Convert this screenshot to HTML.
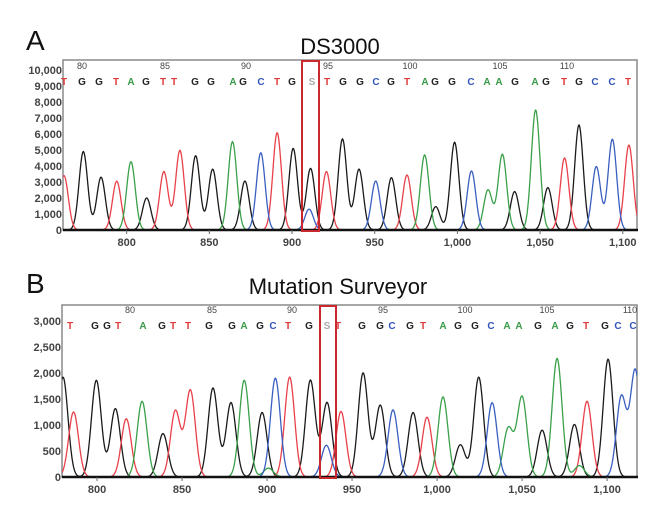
<!DOCTYPE html>
<html><head><meta charset="utf-8">
<style>
body{margin:0;background:#fff;}
svg{display:block;font-family:"Liberation Sans",sans-serif;}
</style></head>
<body>
<svg id="fig" width="660" height="511" viewBox="0 0 660 511" xmlns="http://www.w3.org/2000/svg">
<text x="26" y="50" font-size="28" fill="#111">A</text>
<text x="340" y="54" font-size="22" fill="#111" text-anchor="middle">DS3000</text>
<text x="26" y="293" font-size="28" fill="#111">B</text>
<text x="338" y="294" font-size="22" fill="#111" text-anchor="middle">Mutation Surveyor</text>
<g id="pa"></g>
<g id="pb"></g>
</svg>
<script>
// ---- Panel A data (DS3000) ----
const aBlackPos=[773.8,784.5,812.1,841.7,852,871.5,900.7,911.2,930.5,940.5,960.1,986.9,998.3,1034.6,1054.7,1073.5];
const aBlackH=[4900,3300,2000,4640,3800,3060,5100,3850,5690,3800,3270,1460,5480,2400,2650,6560];
const aRedPos=[762.1,794,822.5,832.2,891,920.8,969.5,1064.8,1103.7];
const aRedH=[3400,3050,3650,4970,6080,3650,3440,4500,5310];
const aGreenPos=[802.6,864,980.2,1018.5,1027.2,1047.3];
const aGreenH=[4270,5520,4690,2500,4730,7500];
const aBluePos=[881.1,910.3,950.6,1008.5,1084,1093.7];
const aBlueH=[4830,1300,3060,3690,3960,5670];
const aYTicks=[0,1000,2000,3000,4000,5000,6000,7000,8000,9000,10000];
const aXTicks=[800,850,900,950,1000,1050,1100];
const aBases="TGGTAGTTGGAGCTGSTGGCGTAGGCAAGAGTGCCT".split("");
const aBasePx=[64,82,99,116,131,146,163,174,195,211,233,243,261,277,292,312,327,343,360,376,391,407,425,435,452,471,487,499,515,535,546,564,579,595,612,628];
const aPosNums=[80,85,90,95,100,105,110];
const aPosPx=[82,165,246,328,410,500,567];
// ---- Panel B data (Mutation Surveyor) ----
const bBlackPos=[780,799.6,810.8,838.8,868.2,878.8,897.1,925.5,935.3,956.5,966.6,985.9,1013.7,1024.5,1061.8,1080.8,1100.6];
const bBlackH=[1920,1860,1315,835,1710,1430,1240,1860,1430,2000,1380,1240,620,1920,900,1010,2265];
const bRedPos=[786.2,817.2,846.1,854.9,913.3,943.5,994.1,1088.2];
const bRedH=[1250,1120,1270,1667,1920,1260,1150,1455];
const bGreenPos=[826.5,886.6,900.8,1003.5,1041.9,1050,1070.6,1083.7];
const bGreenH=[1455,1860,170,1540,935,1540,2280,220];
const bBluePos=[904.9,934.9,974.1,1032.4,1108.4,1116.6];
const bBlueH=[1900,610,1290,1430,1540,2050];
const bYTicks=[0,500,1000,1500,2000,2500,3000];
const bXTicks=[800,850,900,950,1000,1050,1100];
const bBases="TGGTAGTTGGAGCTGSTGGCGTAGGCAAGAGTGCC".split("");
const bBasePx=[70,95,107,118,143,162,173,188,209,232,244,260,273,288,309,327,338,362,380,392,410,423,443,458,475,491,507,519,538,555,570,586,605,618,633];
const bPosNums=[80,85,90,95,100,105,110];
const bPosPx=[130,212,292,383,465,547,630];

const NS="http://www.w3.org/2000/svg";
const COL={A:"#3a9a4a",C:"#3355bb",G:"#222",T:"#e03a3a",S:"#aaa"};
function mk(tag,attrs,parent){const e=document.createElementNS(NS,tag);for(const k in attrs)e.setAttribute(k,attrs[k]);parent.appendChild(e);return e;}

function panel(gid,cfg){
  const g=document.getElementById(gid);
  const L=cfg.L,R=cfg.R,T=cfg.T,B=cfg.B;
  const xs=v=>L+(v-cfg.x0)/(cfg.x1-cfg.x0)*(R-L);
  const ys=v=>B-v*cfg.ky;
  const cid=gid+"clip";
  const defs=mk("defs",{},g);
  const cp=mk("clipPath",{id:cid},defs);
  mk("rect",{x:L,y:T,width:R-L,height:B-T},cp);
  const box=mk("rect",{x:L,y:T,width:R-L,height:B-T,fill:"#fff",stroke:"#8a8a8a","stroke-width":1.5},g);
  
  
  const chans=[["black",cfg.black,"#1a1a1a"],["red",cfg.red,"#e8414a"],["green",cfg.green,"#3aa04a"],["blue",cfg.blue,"#3a5fc0"]];
  const tg=mk("g",{"clip-path":"url(#"+cid+")"},g);
  chans.forEach(([nm,ch,col])=>{
    const pos=ch[0],h=ch[1];
    let pts=[];
    for(let px=L;px<=R;px+=0.5){
      const v=cfg.x0+(px-L)/(R-L)*(cfg.x1-cfg.x0);
      let s=0;for(let i=0;i<pos.length;i++){const d=(v-pos[i])/cfg.sig;s+=h[i]*Math.exp(-0.5*d*d);}
      pts.push(px.toFixed(1)+","+ys(s).toFixed(1));
    }
    const pl=mk("polyline",{points:pts.join(" "),fill:"none",stroke:col,"stroke-width":1.3},tg);
    
    
  });
  const bl=mk("line",{x1:L,x2:R+1,y1:B,y2:B,stroke:"#111","stroke-width":2.5},g);
  
  
  cfg.yt.forEach(t=>{
    const tx=mk("text",{x:L-1,y:ys(t)+4,"font-size":11,"text-anchor":"end",fill:"#444","font-weight":"bold"},g);
    tx.textContent=t.toLocaleString("en-US");
    
    
  });
  cfg.xt.forEach(t=>{
    const x=xs(t);
    const tk=mk("line",{x1:x,x2:x,y1:B,y2:B+4,stroke:"#666"},g);
    
    
    const tx=mk("text",{x:x,y:B+16,"font-size":11,"text-anchor":"middle",fill:"#444","font-weight":"bold"},g);
    tx.textContent=t.toLocaleString("en-US");
    
    
  });
  cfg.pn.forEach((n,i)=>{
    const tx=mk("text",{x:cfg.pp[i],y:cfg.numY,"font-size":9,"text-anchor":"middle",fill:"#444"},g);
    tx.textContent=n;
    
    
  });
  cfg.bases.forEach((b,i)=>{
    const tx=mk("text",{x:cfg.bp[i],y:cfg.baseY,"font-size":10,"text-anchor":"middle",fill:COL[b],"font-weight":"bold"},g);
    tx.textContent=b;
    
    
  });
  const hb=mk("rect",{x:cfg.hl[0],y:cfg.hl[1],width:cfg.hl[2],height:cfg.hl[3],fill:"none",stroke:"#c8282e","stroke-width":2},g);
  
  
}

panel("pa",{L:63,R:637,T:60,B:230,x0:761.5,x1:1108.6,ky:0.016,sig:2.6,
  black:[aBlackPos,aBlackH],red:[aRedPos,aRedH],green:[aGreenPos,aGreenH],blue:[aBluePos,aBlueH],
  yt:aYTicks,xt:aXTicks,pn:aPosNums,pp:aPosPx,numY:69,bases:aBases,bp:aBasePx,baseY:85,hl:[302,61,17,170]});
panel("pb",{L:62,R:637,T:305,B:477,x0:779.4,x1:1117.6,ky:0.052,sig:2.9,
  black:[bBlackPos,bBlackH],red:[bRedPos,bRedH],green:[bGreenPos,bGreenH],blue:[bBluePos,bBlueH],
  yt:bYTicks,xt:bXTicks,pn:bPosNums,pp:bPosPx,numY:313,bases:bBases,bp:bBasePx,baseY:329,hl:[320,306,16,172]});
</script>
</body></html>
